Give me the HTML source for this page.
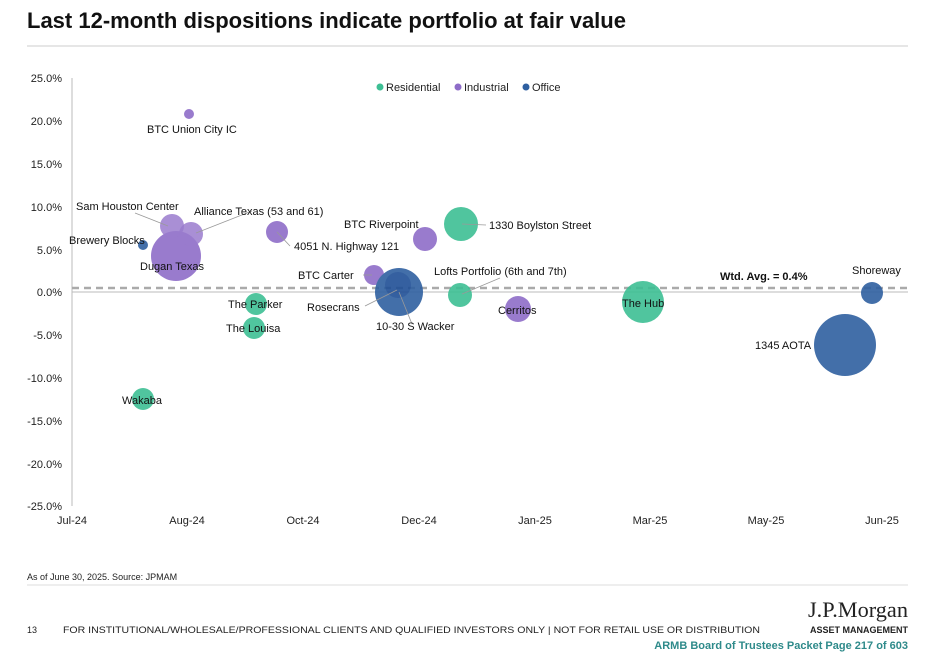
<!DOCTYPE html>
<html><head><meta charset="utf-8"><style>
body{margin:0;width:936px;height:656px;background:#fff;font-family:"Liberation Sans",Arial,sans-serif;position:relative;overflow:hidden}
.t{position:absolute;left:27px;top:8px;font-size:22px;font-weight:bold;color:#111}
</style></head><body>
<div class="t">Last 12-month dispositions indicate portfolio at fair value</div>
<svg width="936" height="656" style="position:absolute;left:0;top:0" font-family="Liberation Sans, Arial, sans-serif">
<line x1="27" y1="46" x2="908" y2="46" stroke="#ccc"/>
<g font-size="11" fill="#222" text-anchor="end">
<text x="62" y="82">25.0%</text><text x="62" y="125">20.0%</text><text x="62" y="168">15.0%</text><text x="62" y="211">10.0%</text><text x="62" y="254">5.0%</text><text x="62" y="296">0.0%</text><text x="62" y="339">-5.0%</text><text x="62" y="382">-10.0%</text><text x="62" y="425">-15.0%</text><text x="62" y="468">-20.0%</text><text x="62" y="510">-25.0%</text>
</g>
<g font-size="11" fill="#222" text-anchor="middle">
<text x="72" y="524">Jul-24</text><text x="187" y="524">Aug-24</text><text x="303" y="524">Oct-24</text><text x="419" y="524">Dec-24</text><text x="535" y="524">Jan-25</text><text x="650" y="524">Mar-25</text><text x="766" y="524">May-25</text><text x="882" y="524">Jun-25</text>
</g>
<line x1="72" y1="78" x2="72" y2="506" stroke="#bbb"/>
<line x1="72" y1="292" x2="908" y2="292" stroke="#bbb"/>
<line x1="72" y1="288" x2="908" y2="288" stroke="#aaa" stroke-width="2.5" stroke-dasharray="7,5"/>
<g font-size="11" fill="#222">
<circle cx="380" cy="87" r="3.5" fill="#3dbf94"/><text x="386" y="91">Residential</text>
<circle cx="458" cy="87" r="3.5" fill="#8e6cc8"/><text x="464" y="91">Industrial</text>
<circle cx="526" cy="87" r="3.5" fill="#2e5fa0"/><text x="532" y="91">Office</text>
</g>
<g opacity="0.9">
<circle cx="845" cy="345" r="31" fill="#2e5fa0"/>
<circle cx="643" cy="302" r="21" fill="#3dbf94"/>
<circle cx="872" cy="293" r="11" fill="#2e5fa0"/>
<circle cx="143" cy="399" r="11" fill="#3dbf94"/>
<circle cx="254" cy="328" r="11" fill="#3dbf94"/>
<circle cx="256" cy="304" r="11" fill="#3dbf94"/>
<circle cx="518" cy="309" r="13" fill="#8e6cc8"/>
<circle cx="460" cy="295" r="12" fill="#3dbf94"/>
<circle cx="374" cy="275" r="10" fill="#8e6cc8"/>
<circle cx="399" cy="292" r="24" fill="#2e5fa0"/>
<circle cx="398" cy="285" r="13" fill="#1f4f96"/>
<circle cx="461" cy="224" r="17" fill="#3dbf94"/>
<circle cx="425" cy="239" r="12" fill="#8e6cc8"/>
<circle cx="277" cy="232" r="11" fill="#8e6cc8"/>
<circle cx="143" cy="245" r="5" fill="#2e5fa0"/>
<circle cx="176" cy="256" r="25" fill="#8e6cc8"/>
<circle cx="172" cy="226" r="12" fill="#8e6cc8" opacity="0.85"/>
<circle cx="191" cy="234" r="12" fill="#8e6cc8" opacity="0.85"/>
<circle cx="189" cy="114" r="5" fill="#8e6cc8"/>
</g>
<g stroke="#999" stroke-width="0.8" fill="none">
<line x1="135" y1="213" x2="168" y2="226"/><line x1="252" y1="211" x2="196" y2="233"/>
<line x1="277" y1="232" x2="290" y2="246"/><line x1="462" y1="224" x2="486" y2="225"/>
<line x1="363" y1="275" x2="372" y2="275"/><line x1="365" y1="306" x2="397" y2="290"/>
<line x1="399" y1="292" x2="412" y2="324"/><line x1="462" y1="294" x2="500" y2="278"/>
</g>
<g font-size="11" fill="#111">
<text x="147" y="133">BTC Union City IC</text>
<text x="76" y="210">Sam Houston Center</text>
<text x="194" y="215">Alliance Texas (53 and 61)</text>
<text x="69" y="244">Brewery Blocks</text>
<text x="140" y="270">Dugan Texas</text>
<text x="294" y="250">4051 N. Highway 121</text>
<text x="344" y="228">BTC Riverpoint</text>
<text x="489" y="229">1330 Boylston Street</text>
<text x="298" y="279">BTC Carter</text>
<text x="434" y="275">Lofts Portfolio (6th and 7th)</text>
<text x="228" y="308">The Parker</text>
<text x="307" y="311">Rosecrans</text>
<text x="498" y="314">Cerritos</text>
<text x="226" y="332">The Louisa</text>
<text x="376" y="330">10-30 S Wacker</text>
<text x="622" y="307">The Hub</text>
<text x="755" y="349">1345 AOTA</text>
<text x="852" y="274">Shoreway</text>
<text x="122" y="404">Wakaba</text>
<text x="720" y="280" font-weight="bold">Wtd. Avg. = 0.4%</text>
</g>
<text x="27" y="580" font-size="9" fill="#222">As of June 30, 2025. Source: JPMAM</text>
<line x1="27" y1="585" x2="908" y2="585" stroke="#ddd"/>
<text x="27" y="633" font-size="9" fill="#222">13</text>
<text x="63" y="633" font-size="9.5" fill="#222" textLength="697" lengthAdjust="spacingAndGlyphs">FOR INSTITUTIONAL/WHOLESALE/PROFESSIONAL CLIENTS AND QUALIFIED INVESTORS ONLY | NOT FOR RETAIL USE OR DISTRIBUTION</text>
<text x="908" y="617" font-size="22" font-family="Liberation Serif, serif" fill="#222" text-anchor="end" textLength="100" lengthAdjust="spacingAndGlyphs">J.P.Morgan</text>
<text x="908" y="633" font-size="9" font-weight="bold" fill="#222" text-anchor="end">ASSET MANAGEMENT</text>
<text x="908" y="649" font-size="11" font-weight="bold" fill="#2e8a8a" text-anchor="end">ARMB Board of Trustees Packet Page 217 of 603</text>
</svg>
</body></html>
